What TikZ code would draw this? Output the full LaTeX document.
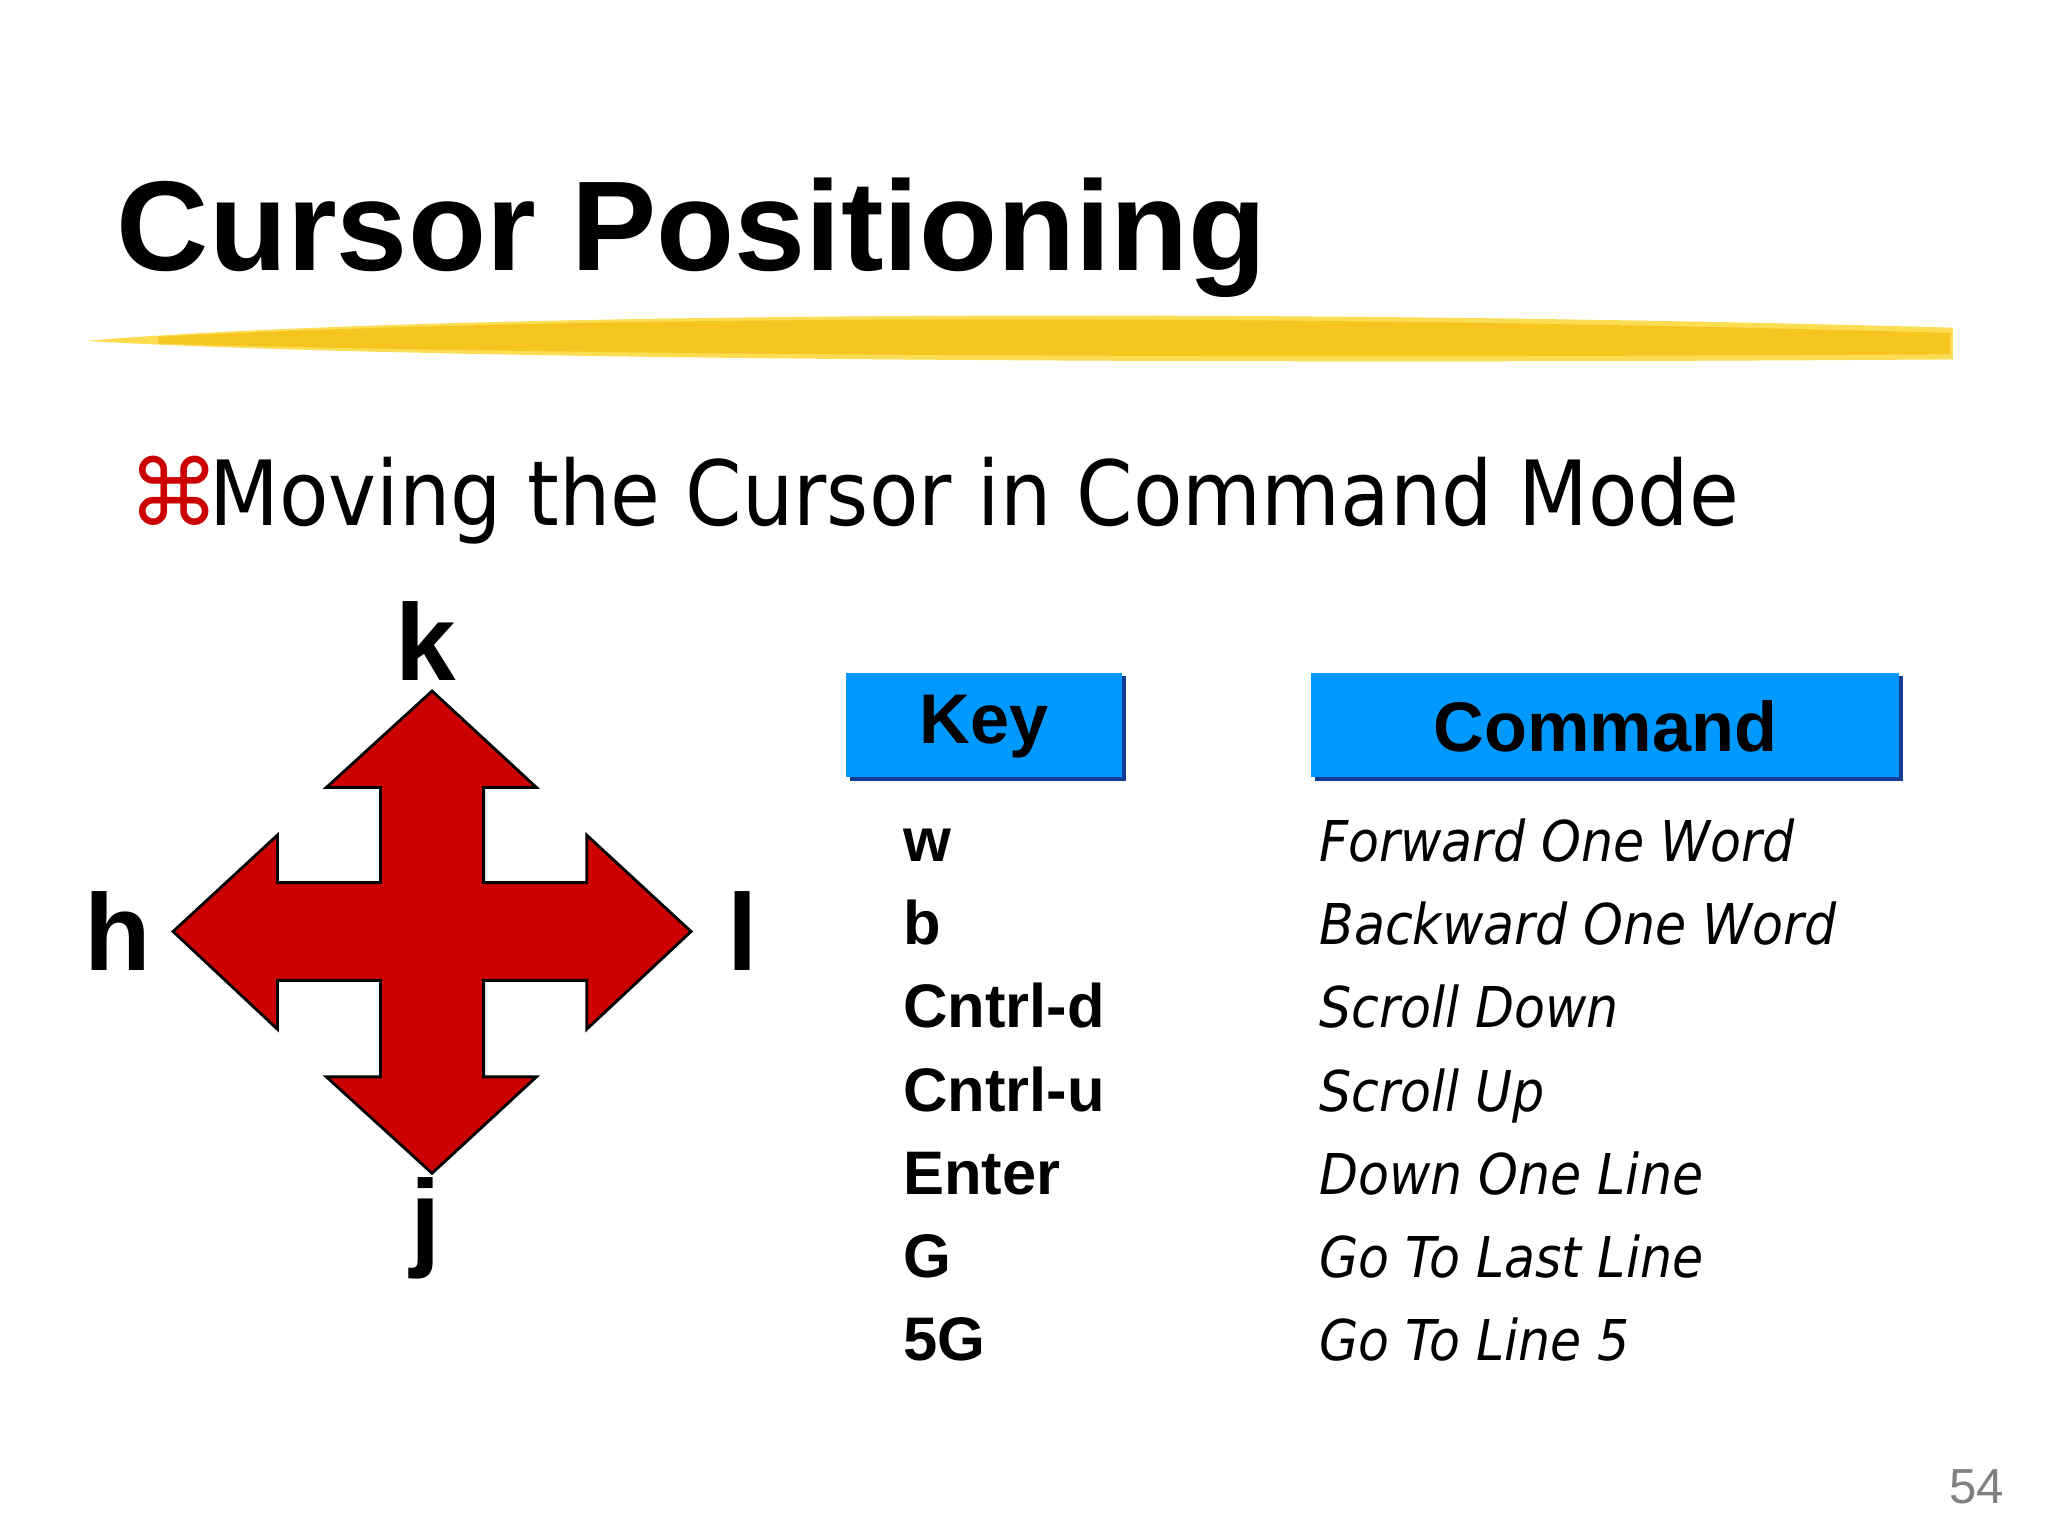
\documentclass[tikz,border=0pt]{standalone}
\usepackage{fontspec}
\setmainfont{Liberation Sans}
\newfontfamily\subfont{DejaVu Sans Condensed}
\newfontfamily\symfont{DejaVu Sans}
\definecolor{arrred}{RGB}{204,0,0}
\definecolor{hdrblue}{RGB}{0,153,255}
\definecolor{hdrshadow}{RGB}{20,60,150}
\definecolor{brushY}{RGB}{246,196,30}
\definecolor{brushL}{RGB}{252,220,80}
\begin{document}
\begin{tikzpicture}[x=0.013213cm,y=-0.013213cm,every node/.style={inner sep=0pt},
  keytxt/.style={anchor=base west,font=\bfseries\fontsize{17.5}{20}\selectfont},
  cmdtxt/.style={anchor=base west,font=\subfont\itshape\fontsize{16}{19}\selectfont},
  dirlbl/.style={font=\bfseries\fontsize{31}{36}\selectfont},
  hdrtxt/.style={font=\bfseries\fontsize{20}{24}\selectfont}]
\useasboundingbox[fill=white] (0,0) rectangle (1550,1162);
% title
\node[anchor=base west] (title) at (88,205) {\resizebox{11.5cm}{!}{\bfseries\fontsize{34}{40}\selectfont Cursor Positioning}};
% brush stroke
\fill[brushL] (65,258) .. controls (300,238) and (900,232) .. (1478,248) -- (1478,272) .. controls (900,276) and (300,272) .. (65,258) -- cycle;
\fill[brushY] (120,255) .. controls (400,240) and (900,236) .. (1476,252) -- (1476,268) .. controls (900,272) and (400,268) .. (120,260) -- cycle;
% subtitle
\node[anchor=base west,text=arrred] (bullet) at (97,398) {\symfont\fontsize{26}{30}\selectfont ⌘};
\node[anchor=base west] (sub) at (158,398) {\resizebox{15.3cm}{!}{\subfont\fontsize{26}{30}\selectfont Moving the Cursor in Command Mode}};
% arrow cross
\filldraw[fill=arrred,draw=black,line width=0.8pt] (327,523) -- (406,596) -- (366,596) -- (366,668) -- (444,668) -- (444,632) -- (523,705) -- (444,779) -- (444,742) -- (366,742) -- (366,815) -- (406,815) -- (327,888) -- (247,815) -- (288,815) -- (288,742) -- (210,742) -- (210,779) -- (131,705) -- (210,632) -- (210,668) -- (288,668) -- (288,596) -- (247,596) -- cycle;
\node[dirlbl] (k) at (322,485) {k};
\node[dirlbl] (h) at (89,705) {h};
\node[dirlbl] (l) at (562,705) {l};
\node[dirlbl] (j) at (322,930) {j};
% headers
\fill[hdrshadow] (643,512) rectangle (852,591);
\fill[hdrblue] (640,509) rectangle (849,588);
\node[hdrtxt] (keyt) at (745,550) {Key};
\fill[hdrshadow] (995,512) rectangle (1440,591);
\fill[hdrblue] (992,509) rectangle (1437,588);
\node[hdrtxt] (cmdt) at (1215,550) {Command};
% rows
\node[keytxt] (k1) at (683,652) {w};
\node[keytxt] (k2) at (683,715) {b};
\node[keytxt] (k3) at (683,778) {Cntrl-d};
\node[keytxt] (k4) at (683,841) {Cntrl-u};
\node[keytxt] (k5) at (683,904) {Enter};
\node[keytxt] (k6) at (683,967) {G};
\node[keytxt] (k7) at (683,1030) {5G};
\node[cmdtxt] (c1) at (998,652) {Forward One Word};
\node[cmdtxt] (c2) at (998,715) {Backward One Word};
\node[cmdtxt] (c3) at (998,778) {Scroll Down};
\node[cmdtxt] (c4) at (998,841) {Scroll Up};
\node[cmdtxt] (c5) at (998,904) {Down One Line};
\node[cmdtxt] (c6) at (998,967) {Go To Last Line};
\node[cmdtxt] (c7) at (998,1030) {Go To Line 5};
\node[text=gray,font=\fontsize{14}{16}\selectfont] (pg) at (1496,1125) {54};
\end{tikzpicture}
\end{document}
